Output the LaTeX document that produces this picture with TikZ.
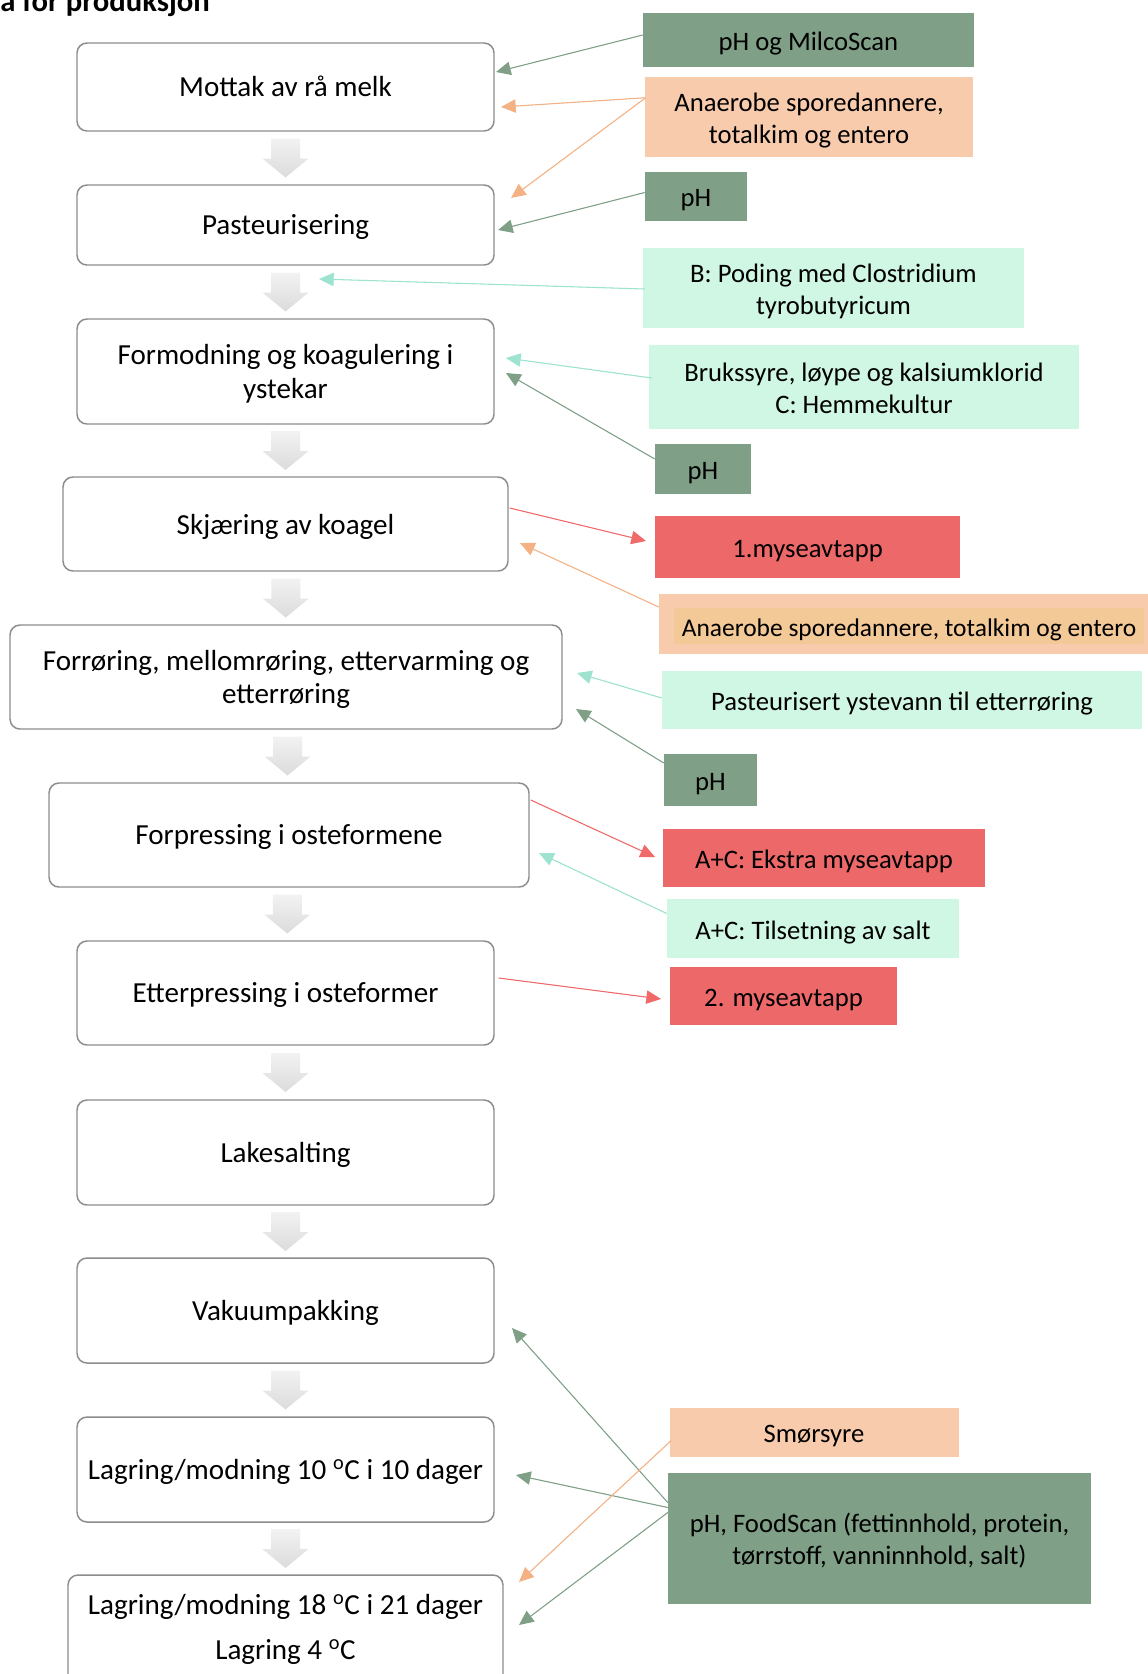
\documentclass[tikz,border=0pt]{standalone}
\usepackage{fontspec}
\setmainfont{Carlito}
\usetikzlibrary{arrows.meta,calc}
\definecolor{gfill}{HTML}{7FA087}
\definecolor{pfill}{HTML}{F8CBAD}
\definecolor{pinner}{HTML}{F3C998}
\definecolor{mfill}{HTML}{D0F6E4}
\definecolor{rfill}{HTML}{ED6868}
\definecolor{marrow}{HTML}{9DE3CF}
\definecolor{parrow}{HTML}{F4B183}
\definecolor{rarrow}{HTML}{F06A6A}
\definecolor{border}{HTML}{8C8C8C}
\tikzset{
  wh/.style 2 args={minimum width=#1*0.75pt, minimum height=#2*0.75pt},
  ptxt/.style={align=center, inner sep=0pt, font=\fontsize{21.8}{25.2}\selectfont, yshift=-1.8pt},
  stxt/.style={align=center, inner sep=0pt, font=\fontsize{20}{24}\selectfont, yshift=-2.8pt},
  procbox/.style={draw=border, line width=1.1pt, rounded corners=7.5pt, fill=white, inner sep=0pt},
  proc/.style={procbox, label={[ptxt]center:{#1}}},
  side/.style={inner sep=0pt},
  st/.style={label={[stxt]center:{#1}}},
  gbox/.style={side, fill=gfill},
  pbox/.style={side, fill=pfill},
  mbox/.style={side, fill=mfill},
  rbox/.style={side, fill=rfill},
  conn/.style={line width=0.8pt, -{Triangle[length=11pt,width=10pt]}},
  ag/.style={conn, draw=gfill, fill=gfill},
  ap/.style={conn, draw=parrow, fill=parrow},
  am/.style={conn, draw=marrow, fill=marrow},
  ar/.style={conn, draw=rarrow, fill=rarrow},
  downarr/.pic={\shade[top color=black!5, bottom color=black!14]
    (-14.5,-19.5) -- (14.5,-19.5) -- (14.5,0.5) -- (23,0.5) -- (0,19.5) -- (-23,0.5) -- (-14.5,0.5) -- cycle;}
}
\begin{document}
\begin{tikzpicture}[x=0.75pt,y=-0.75pt]
\useasboundingbox (0,0) rectangle (1148,1674);
\clip (0,0) rectangle (1148,1674);
\fill[white] (0,0) rectangle (1148,1674);

% title (cut off at top)
\node[anchor=base west, inner sep=0pt, font=\bfseries\fontsize{23}{27}\selectfont] (title) at (0,11) {a for produksjon};

% process boxes
\node[procbox, wh={417}{88}, label={[ptxt, yshift=2.4pt]center:{Mottak av rå melk}}] (n1) at (285.5,87) {};
\node[proc={Pasteurisering}, wh={417}{80}]  (n2)  at (285.5,225) {};
\node[proc={Formodning og koagulering i\\ystekar}, wh={417}{105}] (n3)  at (285.5,371.5) {};
\node[proc={Skjæring av koagel}, wh={445}{94}]  (n4)  at (285.5,524) {};
\node[proc={Forrøring, mellomrøring, ettervarming og\\etterrøring}, wh={552}{104}] (n5)  at (286,677) {};
\node[proc={Forpressing i osteformene}, wh={480}{104}] (n6)  at (289,835) {};
\node[proc={Etterpressing i osteformer}, wh={417}{104}] (n7)  at (285.5,993) {};
\node[proc={Lakesalting}, wh={417}{105}] (n8)  at (285.5,1152.5) {};
\node[proc={Vakuumpakking}, wh={417}{105}] (n9)  at (285.5,1310.5) {};
\node[proc={Lagring/modning 10 \textsuperscript{o}C i 10 dager}, wh={417}{105}] (n10) at (285.5,1469.5) {};
\node[procbox, wh={435}{150}] (n11) at (285.5,1650) {};
\node[align=center, inner sep=0pt, font=\fontsize{21.8}{25.2}\selectfont] (n11t) at (285.5,1629.5)
  {Lagring/modning 18 \textsuperscript{o}C i 21 dager\\[8pt]Lagring 4 \textsuperscript{o}C};

% grey down arrows
\pic at ($(n1.south)!0.5!(n2.north)$) {downarr};
\pic at ($(n2.south)!0.5!(n3.north)$) {downarr};
\pic at ($(n3.south)!0.5!(n4.north)$) {downarr};
\pic at ($(n4.south)!0.5!(n5.north)$) {downarr};
\pic at ($(n5.south)!0.5!(n6.north)$) {downarr};
\pic at ($(n6.south)!0.5!(n7.north)$) {downarr};
\pic at ($(n7.south)!0.5!(n8.north)$) {downarr};
\pic at ($(n8.south)!0.5!(n9.north)$) {downarr};
\pic at ($(n9.south)!0.5!(n10.north)$) {downarr};
\pic at ($(n10.south)!0.5!(n11.north)$) {downarr};

% side boxes
\node[gbox, wh={331}{54}, st={pH og MilcoScan}] (A) at (808.5,40) {};
\node[pbox, wh={328}{80}, st={Anaerobe sporedannere,\\totalkim og entero}] (B) at (809,117) {};
\node[gbox, wh={102}{49}, st={pH}] (C) at (696,196.5) {};
\node[mbox, wh={381}{80}, st={B: Poding med Clostridium\\tyrobutyricum}] (D) at (833.5,288) {};
\node[mbox, wh={430}{84}, label={[stxt, yshift=2pt]center:{Brukssyre, løype og kalsiumklorid\\C: Hemmekultur}}] (E) at (864,387) {};
\node[gbox, wh={96}{50}, st={pH}]  (F) at (703,469) {};
\node[rbox, wh={305}{62}, st={1.myseavtapp}] (G) at (807.5,547) {};
\node[pbox, wh={489}{60}] (H) at (903.5,624) {};
\node[fill=pinner, inner sep=0pt, wh={470}{36}, label={[stxt, font=\fontsize{19.1}{23}\selectfont]center:{Anaerobe sporedannere, totalkim og entero}}] (Ht) at (909,626) {};
\node[mbox, wh={480}{58}, st={Pasteurisert ystevann til etterrøring}] (I) at (902,700) {};
\node[gbox, wh={93}{52}, st={pH}]  (J) at (710.5,780) {};
\node[rbox, wh={322}{58}, st={A+C: Ekstra myseavtapp}] (K) at (824,858) {};
\node[mbox, wh={292}{59}, st={A+C: Tilsetning av salt}] (L) at (813,928.5) {};
\node[rbox, wh={227}{58}, st={2. myseavtapp}] (M) at (783.5,996) {};
\node[pbox, wh={289}{49}, st={Smørsyre}] (N) at (814,1432.5) {};
\node[gbox, wh={423}{131}, label={[stxt, yshift=1pt]center:{pH, FoodScan (fettinnhold, protein,\\tørrstoff, vanninnhold, salt)}}] (O) at (879.5,1538.5) {};

% free ends of connectors
\coordinate (t1) at (496,72);
\coordinate (t2) at (501,107);
\coordinate (t3) at (511,198);
\coordinate (t4) at (498,230);
\coordinate (t5) at (319,279);
\coordinate (t6) at (506,358);
\coordinate (t7) at (506,373);
\coordinate (t8) at (646,541);
\coordinate (t9) at (520,543);
\coordinate (t10) at (577,673);
\coordinate (t11) at (576,709);
\coordinate (t12) at (655,857);
\coordinate (t13) at (539,853);
\coordinate (t14) at (661,999);
\coordinate (t15) at (512,1328);
\coordinate (t16) at (516,1475);
\coordinate (t17) at (519,1582);
\coordinate (t18) at (519,1625);

% connectors
\draw[ag] ($(A.west)+(0,-5)$) -- (t1);
\draw[ap] ($(B.north west)+(1,21)$) -- (t2);
\draw[ap] ($(B.north west)+(1,21)$) -- (t3);
\draw[ag] ($(C.west)+(0,-4)$) -- (t4);
\draw[am] ($(D.west)+(2,1)$) -- (t5);
\draw[am] ($(E.west)+(3,-9)$) -- (t6);
\draw[ag] ($(F.west)+(0,-10)$) -- (t7);
\draw[ar] ($(n4.east)+(1,-16)$) -- (t8);
\draw[ap] ($(H.west)+(0,-17)$) -- (t9);
\draw[am] ($(I.west)+(0,-2)$) -- (t10);
\draw[ag] ($(J.west)+(0,-17)$) -- (t11);
\draw[ar] ($(n6.east)+(1,-35)$) -- (t12);
\draw[am] ($(L.west)+(0,-15)$) -- (t13);
\draw[ar] ($(n7.east)+(4,-15)$) -- (t14);
\draw[ag] ($(O.west)+(0,-36)$) -- (t15);
\draw[ag] ($(O.west)+(0,-31)$) -- (t16);
\draw[ap] ($(N.west)+(2,8)$) -- (t17);
\draw[ag] ($(O.west)+(0,-26)$) -- (t18);
\end{tikzpicture}
\end{document}
